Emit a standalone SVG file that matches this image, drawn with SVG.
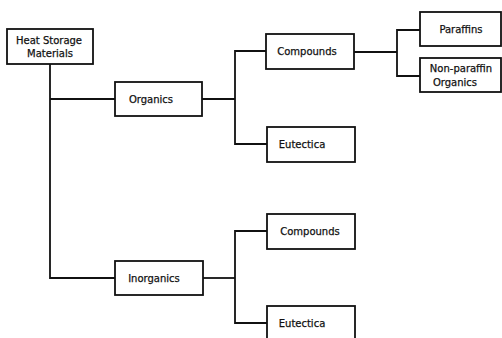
<svg xmlns="http://www.w3.org/2000/svg" width="502" height="338" viewBox="0 0 502 338">
<style>
.box{fill:#fff;stroke:#111;stroke-width:1.8}
.ln{fill:none;stroke:#111;stroke-width:1.8}
text{font-family:"DejaVu Sans","Liberation Sans",sans-serif;font-size:10px;fill:#111;stroke:#111;stroke-width:0.25;text-anchor:middle}
</style>
<rect width="502" height="338" fill="#fff"/>
<g id="connectors">
<path class="ln" d="M50 64 V278 H115"/>
<path class="ln" d="M50 99 H115"/>
<path class="ln" d="M202 99 H235"/>
<path class="ln" d="M266 51 H235 V144 H267"/>
<path class="ln" d="M354 52 H397"/>
<path class="ln" d="M420 30 H397 V76 H420"/>
<path class="ln" d="M203 278 H235"/>
<path class="ln" d="M267 231 H235 V323 H267"/>
</g>
<g id="heat-storage"><rect class="box" x="7" y="29" width="86" height="35"/><text x="49" y="44">Heat Storage</text><text x="50" y="57">Materials</text></g>
<g id="organics"><rect class="box" x="115" y="82" width="87" height="34"/><text x="151" y="103">Organics</text></g>
<g id="compounds-org"><rect class="box" x="266" y="34" width="88" height="35"/><text x="307" y="55">Compounds</text></g>
<g id="paraffins"><rect class="box" x="420" y="12" width="81" height="34"/><text x="461" y="33">Paraffins</text></g>
<g id="non-paraffin"><rect class="box" x="420" y="58" width="81" height="34"/><text x="461" y="72">Non-paraffin</text><text x="455" y="86">Organics</text></g>
<g id="eutectica-org"><rect class="box" x="267" y="127" width="88" height="35"/><text x="302" y="148">Eutectica</text></g>
<g id="inorganics"><rect class="box" x="115" y="261" width="88" height="34"/><text x="154" y="282">Inorganics</text></g>
<g id="compounds-inorg"><rect class="box" x="267" y="214" width="88" height="35"/><text x="310" y="235">Compounds</text></g>
<g id="eutectica-inorg"><rect class="box" x="267" y="306" width="88" height="40"/><text x="302" y="327">Eutectica</text></g>
</svg>
